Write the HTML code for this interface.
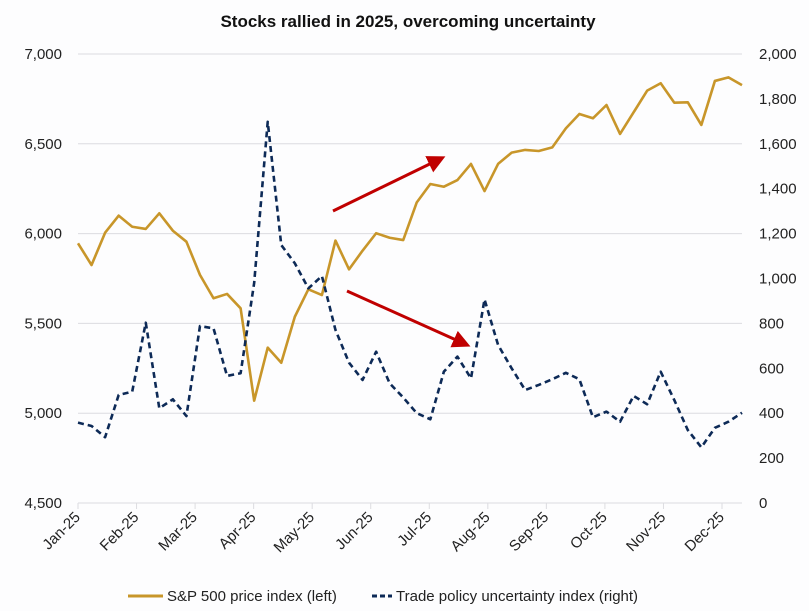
<!DOCTYPE html>
<html><head><meta charset="utf-8"><style>
body{margin:0;background:#fff;}
svg{display:block;font-family:"Liberation Sans",sans-serif;}
</style></head><body>
<svg id="chart" width="809" height="611" viewBox="0 0 809 611">
<rect width="809" height="611" fill="#fdfdfe"/>
<text x="408" y="27" text-anchor="middle" font-size="17" font-weight="bold" fill="#111">Stocks rallied in 2025, overcoming uncertainty</text>
<g id="grid"></g><g id="axes"></g><g id="series"></g>
<defs><marker id="ah" markerWidth="6" markerHeight="6" refX="4" refY="3" orient="auto"><path d="M0,0 L6,3 L0,6 z" fill="#c00000"/></marker></defs>
<line x1="333" y1="211" x2="440" y2="159" stroke="#c00000" stroke-width="3" marker-end="url(#ah)"/>
<line x1="347" y1="291" x2="465" y2="344" stroke="#c00000" stroke-width="3" marker-end="url(#ah)"/>
<g>
<g><line x1="128" y1="596" x2="163" y2="596" stroke="#c8962a" stroke-width="3"/><text x="167" y="601" font-size="15" fill="#222">S&amp;P 500 price index (left)</text></g>
<g><line x1="372" y1="596" x2="392" y2="596" stroke="#0d2a57" stroke-width="3" stroke-dasharray="5,3"/><text x="396" y="601" font-size="15" fill="#222">Trade policy uncertainty index (right)</text></g>
</g>
</svg>
<script>
const months=["Jan-25","Feb-25","Mar-25","Apr-25","May-25","Jun-25","Jul-25","Aug-25","Sep-25","Oct-25","Nov-25","Dec-25"];
const leftTicks=[4500,5000,5500,6000,6500,7000];
const rightTicks=[0,200,400,600,800,1000,1200,1400,1600,1800,2000];
const sp500=[5946,5825,6005,6100,6038,6026,6113,6016,5955,5770,5640,5664,5584,5070,5365,5281,5537,5690,5658,5961,5801,5905,6002,5977,5964,6174,6276,6261,6298,6388,6237,6388,6451,6466,6460,6480,6586,6666,6642,6716,6555,6675,6796,6837,6729,6731,6605,6850,6870,6827];
const uncertainty=[358,343,293,481,496,803,422,462,387,788,778,566,578,980,1698,1149,1068,956,1011,771,625,548,674,533,470,400,373,585,652,555,907,704,600,503,526,551,580,551,382,407,362,477,440,585,459,325,248,335,362,402];
const X0=78,X1=742,Y0=54,Y1=503;
const NS="http://www.w3.org/2000/svg";
function xi(i){return X0+i*(X1-X0)/(sp500.length-1);}
function xm(m){return X0+m*(722-X0)/11;}
function yl(v){return Y1-(v-4500)/2500*(Y1-Y0);}
function yr(v){return Y1-v/2000*(Y1-Y0);}
function mk(t,a,p){const e=document.createElementNS(NS,t);for(const k in a)e.setAttribute(k,a[k]);p.appendChild(e);return e;}
const grid=document.getElementById('grid'),axes=document.getElementById('axes'),ser=document.getElementById('series');
leftTicks.forEach(v=>{
 const l=mk('line',{x1:X0,x2:X1,y1:yl(v),y2:yl(v),stroke:'#dcdce0','stroke-width':1},grid);
 
 
 const t=mk('text',{x:62,y:yl(v)+5,'text-anchor':'end','font-size':15,fill:'#222'},axes);
 t.textContent=v.toLocaleString('en-US');
 
 
});
rightTicks.forEach(v=>{
 const t=mk('text',{x:759,y:yr(v)+5,'font-size':15,fill:'#222'},axes);
 t.textContent=v.toLocaleString('en-US');
 
 
});
months.forEach((m,i)=>{
 const x=xm(i);
 const tk=mk('line',{x1:x,x2:x,y1:Y1,y2:Y1+6,stroke:'#dcdce0'},axes);
 
 
 const t=mk('text',{x:x+3,y:Y1+15,'text-anchor':'end','font-size':15,fill:'#222',transform:`rotate(-45 ${x+3} ${Y1+15})`},axes);
 t.textContent=m;
 
 
});
const p1=mk('polyline',{points:sp500.map((v,i)=>xi(i)+','+yl(v)).join(' '),fill:'none',stroke:'#c8962a','stroke-width':2.6,'stroke-linejoin':'round'},ser);


const p2=mk('polyline',{points:uncertainty.map((v,i)=>xi(i)+','+yr(v)).join(' '),fill:'none',stroke:'#0d2a57','stroke-width':2.6,'stroke-dasharray':'6,4','stroke-linejoin':'round'},ser);


</script>
</body></html>
